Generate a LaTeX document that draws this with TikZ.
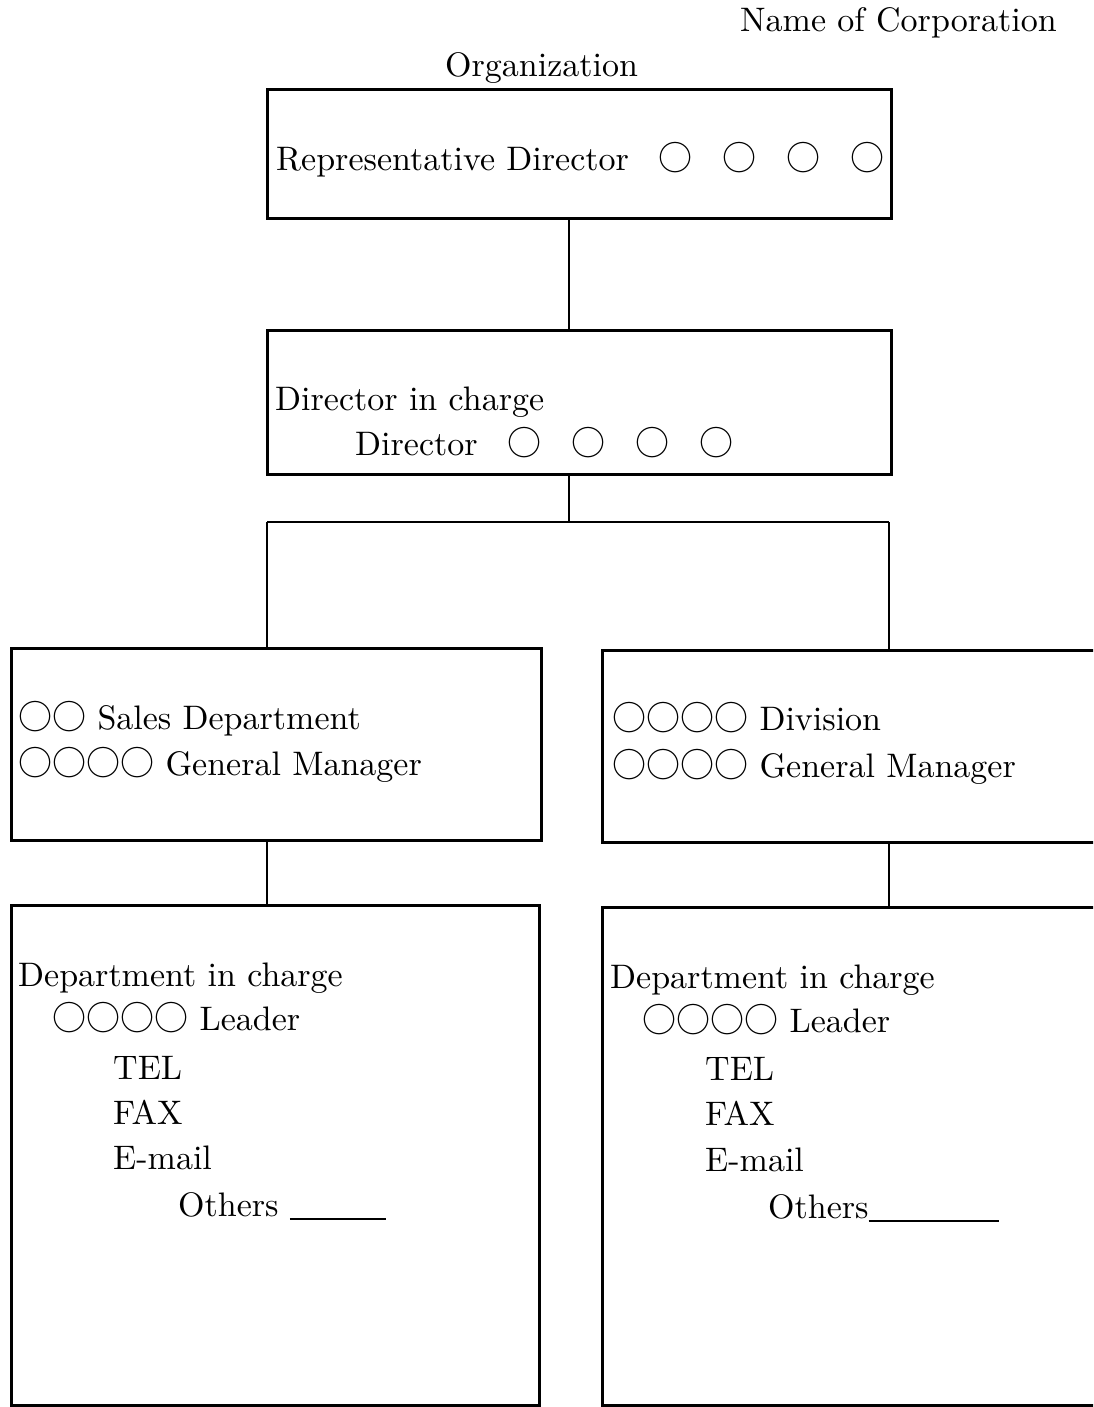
\documentclass[tikz,border=0pt]{standalone}
\usepackage{fontspec}
\setmainfont{lmroman10-regular.otf}
\newfontfamily\cjkfont{Noto Sans CJK JP}
\newcommand{\maru}{{\cjkfont ○}}
\newcommand{\wgap}{\hspace{30pt}}

\begin{document}
\begin{tikzpicture}[x=1pt, y=-1pt,
  box/.style={rectangle, draw, line width=3pt, inner sep=0pt},
  txt/.style={anchor=base west, inner sep=0pt, font=\fontsize{34}{40}\selectfont},
  link/.style={draw, line width=1.3pt}
]
  \path[use as bounding box, clip] (0,0) rectangle (1093,1407);

  % Titles
  \node[txt] (corp) at (740,32) {Name of Corporation};
  \node[txt] (org) at (445,77) {Organization};

  % Boxes
  \node[box, minimum width=624pt, minimum height=128pt] (rep) at (579,154) {};
  \node[box, minimum width=624pt, minimum height=144pt] (dirbox) at (579,402) {};
  \node[box, minimum width=530pt, minimum height=192pt] (sales) at (276,744) {};
  \node[box, minimum width=538pt, minimum height=192pt] (division) at (871,746) {};
  \node[box, minimum width=528pt, minimum height=500pt] (deptL) at (275,1155) {};
  \node[box, minimum width=538pt, minimum height=498pt] (deptR) at (871,1156) {};

  % Box texts
  \node[txt] (reptxt) at (276,171) {Representative Director\wgap\maru\wgap\maru\wgap\maru\wgap\maru};
  \node[txt] (dirtxt) at (275,410) {Director in charge};
  \node[txt] (dirname) at (355,455) {Director\wgap\maru\wgap\maru\wgap\maru\wgap\maru};
  \node[txt] (salestxt) at (18,729) {\maru\maru{} Sales Department};
  \node[txt] (salesgm) at (18,775) {\maru\maru\maru\maru{} General Manager};
  \node[txt] (divtxt) at (612,730) {\maru\maru\maru\maru{} Division};
  \node[txt] (divgm) at (612,777) {\maru\maru\maru\maru{} General Manager};

  % Department in charge (left)
  \node[txt] (deptLtxt) at (18,986) {Department in charge};
  \node[txt] (deptLlead) at (52,1030) {\maru\maru\maru\maru{} Leader};
  \node[txt] (deptLtel) at (113,1079) {TEL};
  \node[txt] (deptLfax) at (113,1124) {FAX};
  \node[txt] (deptLmail) at (113,1169) {E-mail};
  \node[txt] (deptLother) at (178,1216) {Others \rule[-4pt]{96pt}{1.6pt}};

  % Department in charge (right)
  \node[txt] (deptRtxt) at (610,988) {Department in charge};
  \node[txt] (deptRlead) at (642,1032) {\maru\maru\maru\maru{} Leader};
  \node[txt] (deptRtel) at (705,1080) {TEL};
  \node[txt] (deptRfax) at (705,1125) {FAX};
  \node[txt] (deptRmail) at (705,1171) {E-mail};
  \node[txt] (deptRother) at (768,1218) {Others\rule[-4pt]{130pt}{1.6pt}};

  % Connectors
  \coordinate (trunk) at (569,522);
  \coordinate (forkL) at (267,522);
  \coordinate (forkR) at (889,522);
  \draw[link] (rep.south -| trunk) -- (dirbox.north -| trunk);
  \draw[link] (dirbox.south -| trunk) -- (trunk);
  \draw[link] (forkL) -- (forkR);
  \draw[link] (forkL) -- (forkL |- sales.north);
  \draw[link] (forkR) -- (forkR |- division.north);
  \draw[link] (sales.south -| forkL) -- (deptL.north -| forkL);
  \draw[link] (division.south -| forkR) -- (deptR.north -| forkR);
\end{tikzpicture}
\end{document}
